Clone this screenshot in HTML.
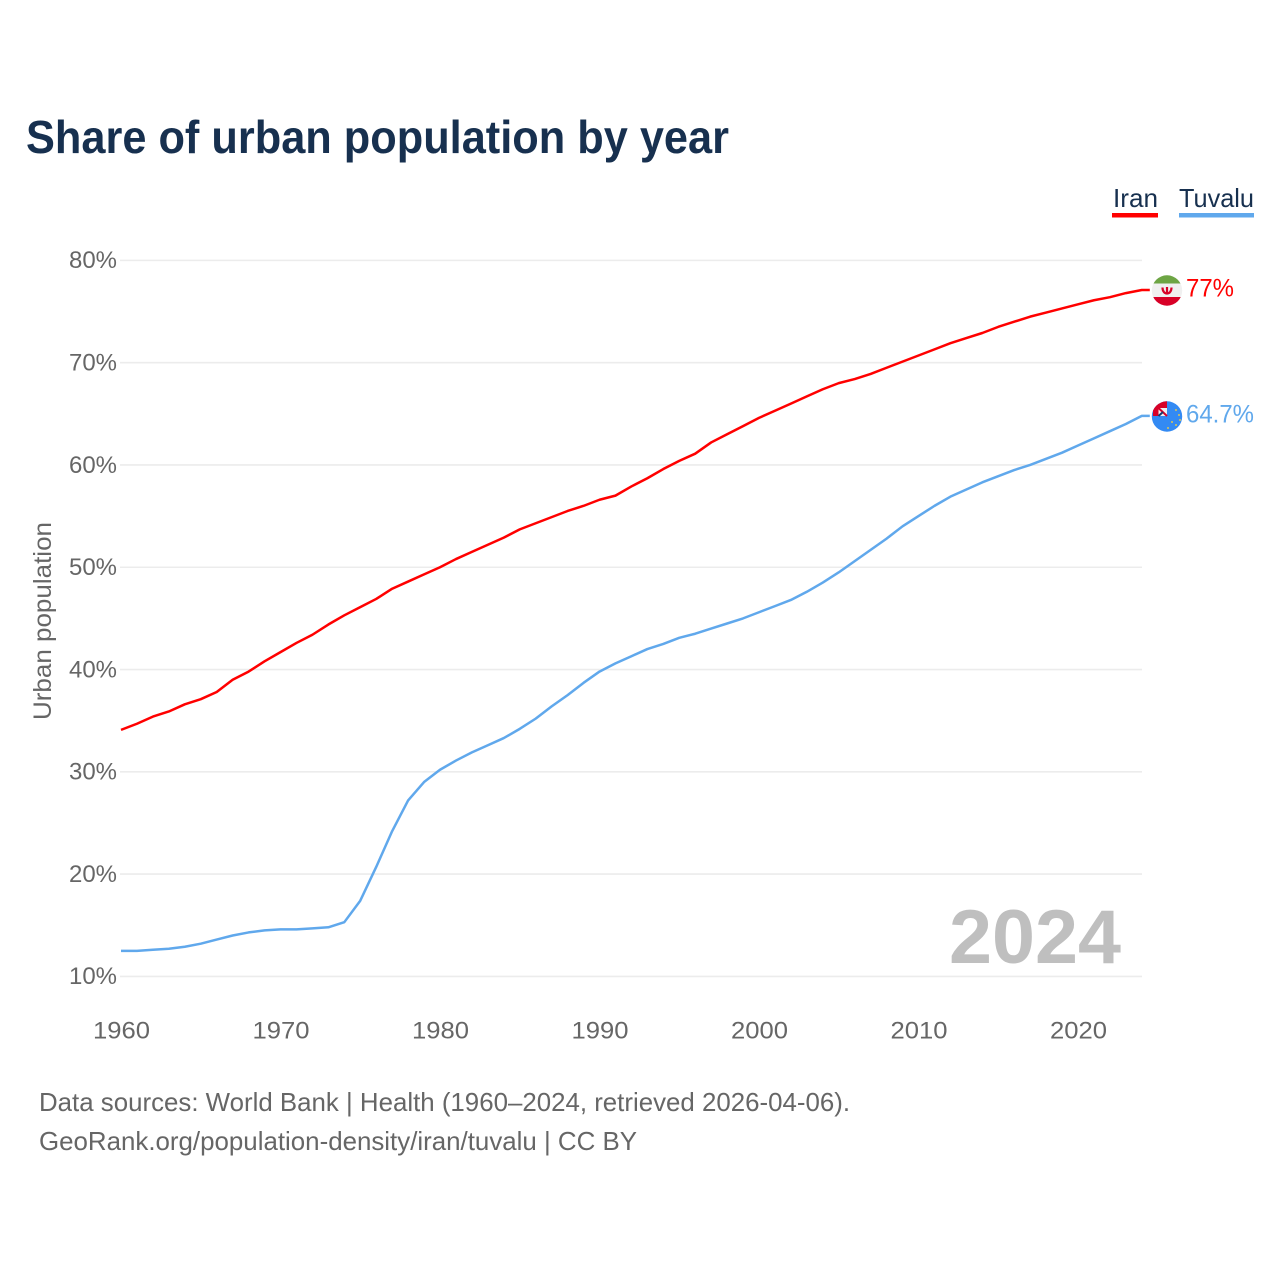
<!DOCTYPE html>
<html lang="en">
<head>
<meta charset="utf-8">
<title>Share of urban population by year</title>
<style>
html,body{margin:0;padding:0;background:#fff;}
svg{display:block;font-family:"Liberation Sans",sans-serif;}
</style>
</head>
<body>
<svg id="chart" width="1280" height="1280" viewBox="0 0 1280 1280" xmlns="http://www.w3.org/2000/svg">
  <defs>
    <clipPath id="iran-clip"><circle cx="1167" cy="290.5" r="15.2"/></clipPath>
    <clipPath id="tuvalu-clip"><circle cx="1167" cy="416.5" r="15.2"/></clipPath>
  </defs>
  <rect x="0" y="0" width="1280" height="1280" fill="#fff"/>
  <text x="26" y="153" font-size="46" font-weight="700" fill="#17304f" textLength="703" lengthAdjust="spacingAndGlyphs">Share of urban population by year</text>

  <g id="grid"></g>
  <g id="yticks"></g>
  <g id="xticks"></g>
  <text transform="translate(51,720) rotate(-90)" font-size="25" fill="#666" textLength="198" lengthAdjust="spacingAndGlyphs">Urban population</text>

  <text x="949" y="963" font-size="76" font-weight="700" fill="#bfbfbf" textLength="172" lengthAdjust="spacingAndGlyphs">2024</text>
  <g id="series"></g>

  <g>
    <text x="1113" y="207" font-size="26" fill="#17304f" textLength="45" lengthAdjust="spacingAndGlyphs">Iran</text>
    <rect x="1112" y="213" width="46" height="4.5" fill="#ff0000"/>
  </g>
  <g>
    <text x="1179" y="207" font-size="26" fill="#17304f" textLength="75" lengthAdjust="spacingAndGlyphs">Tuvalu</text>
    <rect x="1179" y="213" width="75" height="4.5" fill="#60a8ec"/>
  </g>

  <g clip-path="url(#iran-clip)">
    <rect x="1151" y="275" width="32" height="31" fill="#f0f0f0"/>
    <rect x="1151" y="275" width="32" height="8.5" fill="#6da544"/>
    <rect x="1151" y="297" width="32" height="9" fill="#d80027"/>
    <path d="M1162.5 287.5 C1162.5 295.5 1171.5 295.5 1171.5 287.5 M1167 287 L1167 294" fill="none" stroke="#d80027" stroke-width="2.2"/>
  </g>
  <g clip-path="url(#tuvalu-clip)">
    <rect x="1151" y="401" width="32" height="31" fill="#338af3"/>
    <rect x="1153" y="401" width="14" height="15" fill="#d80027"/>
    <rect x="1158.5" y="408" width="8.5" height="8" fill="#f0f0f0"/>
    <path d="M1158.5 408 L1167 416" stroke="#d80027" stroke-width="2"/>
    <path d="M1158.5 416 L1163 412" stroke="#1a3a6b" stroke-width="2"/>
    <circle cx="1176" cy="410" r="1" fill="#d9c65a"/>
    <circle cx="1179" cy="415" r="1" fill="#d9c65a"/>
    <circle cx="1172" cy="422" r="1" fill="#d9c65a"/>
    <circle cx="1180" cy="420" r="1" fill="#d9c65a"/>
    <circle cx="1176" cy="425" r="1" fill="#d9c65a"/>
    <circle cx="1168" cy="428" r="1" fill="#d9c65a"/>
  </g>

  <text x="1186" y="296.5" font-size="25" fill="#ff0000" textLength="48" lengthAdjust="spacingAndGlyphs">77%</text>
  <text x="1186" y="422.5" font-size="25" fill="#60a8ec" textLength="68" lengthAdjust="spacingAndGlyphs">64.7%</text>

  <text x="39" y="1111" font-size="26" fill="#666" textLength="811" lengthAdjust="spacingAndGlyphs">Data sources: World Bank | Health (1960–2024, retrieved 2026-04-06).</text>
  <text x="39" y="1150" font-size="26" fill="#666" textLength="598" lengthAdjust="spacingAndGlyphs">GeoRank.org/population-density/iran/tuvalu | CC BY</text>
</svg>
<script>
const startYear = 1960;
const yTickValues = [10, 20, 30, 40, 50, 60, 70, 80];
const xTickYears = [1960, 1970, 1980, 1990, 2000, 2010, 2020];
const iranValues = [34.1,34.7,35.4,35.9,36.6,37.1,37.8,39.0,39.8,40.8,41.7,42.6,43.4,44.4,45.3,46.1,46.9,47.9,48.6,49.3,50.0,50.8,51.5,52.2,52.9,53.7,54.3,54.9,55.5,56.0,56.6,57.0,57.9,58.7,59.6,60.4,61.1,62.2,63.0,63.8,64.6,65.3,66.0,66.7,67.4,68.0,68.4,68.9,69.5,70.1,70.7,71.3,71.9,72.4,72.9,73.5,74.0,74.5,74.9,75.3,75.7,76.1,76.4,76.8,77.1];
const tuvaluValues = [12.5,12.5,12.6,12.7,12.9,13.2,13.6,14.0,14.3,14.5,14.6,14.6,14.7,14.8,15.3,17.4,20.7,24.2,27.2,29.0,30.2,31.1,31.9,32.6,33.3,34.2,35.2,36.4,37.5,38.7,39.8,40.6,41.3,42.0,42.5,43.1,43.5,44.0,44.5,45.0,45.6,46.2,46.8,47.6,48.5,49.5,50.6,51.7,52.8,54.0,55.0,56.0,56.9,57.6,58.3,58.9,59.5,60.0,60.6,61.2,61.9,62.6,63.3,64.0,64.8];

const SVG_NS = 'http://www.w3.org/2000/svg';
function xScale(year) { return 121 + (year - startYear) * 15.95; }
function yScale(value) { return 976.4 - (value - 10) * 10.229; }

const gridGroup = document.getElementById('grid');
const yTickGroup = document.getElementById('yticks');
yTickValues.forEach(function (v) {
  const line = document.createElementNS(SVG_NS, 'line');
  
  
  line.setAttribute('x1', 120);
  line.setAttribute('x2', 1142);
  line.setAttribute('y1', yScale(v));
  line.setAttribute('y2', yScale(v));
  line.setAttribute('stroke', '#ececec');
  line.setAttribute('stroke-width', '1.6');
  gridGroup.appendChild(line);

  const label = document.createElementNS(SVG_NS, 'text');
  
  
  label.setAttribute('x', 69);
  label.setAttribute('y', yScale(v) + 7.8);
  label.setAttribute('font-size', '24');
  label.setAttribute('fill', '#666');
  label.setAttribute('textLength', '48');
  label.setAttribute('lengthAdjust', 'spacingAndGlyphs');
  label.textContent = v + '%';
  yTickGroup.appendChild(label);
});

const xTickGroup = document.getElementById('xticks');
xTickYears.forEach(function (y) {
  const label = document.createElementNS(SVG_NS, 'text');
  
  
  label.setAttribute('x', xScale(y) - 28);
  label.setAttribute('y', 1038.5);
  label.setAttribute('font-size', '24');
  label.setAttribute('fill', '#666');
  label.setAttribute('textLength', '57');
  label.setAttribute('lengthAdjust', 'spacingAndGlyphs');
  label.textContent = String(y);
  xTickGroup.appendChild(label);
});

function buildPath(values) {
  let d = '';
  values.forEach(function (v, i) {
    d += (i === 0 ? 'M' : 'L') + xScale(startYear + i).toFixed(2) + ' ' + yScale(v).toFixed(2) + ' ';
  });
  d += 'L' + (xScale(startYear + values.length - 1) + 8).toFixed(2) + ' ' + yScale(values[values.length - 1]).toFixed(2);
  return d;
}

const seriesGroup = document.getElementById('series');

const tuvaluLine = document.createElementNS(SVG_NS, 'path');


tuvaluLine.setAttribute('d', buildPath(tuvaluValues));
tuvaluLine.setAttribute('fill', 'none');
tuvaluLine.setAttribute('stroke', '#60a8ec');
tuvaluLine.setAttribute('stroke-width', '2.5');
tuvaluLine.setAttribute('stroke-linejoin', 'round');
seriesGroup.appendChild(tuvaluLine);

const iranLine = document.createElementNS(SVG_NS, 'path');


iranLine.setAttribute('d', buildPath(iranValues));
iranLine.setAttribute('fill', 'none');
iranLine.setAttribute('stroke', '#ff0000');
iranLine.setAttribute('stroke-width', '2.5');
iranLine.setAttribute('stroke-linejoin', 'round');
seriesGroup.appendChild(iranLine);
</script>
</body>
</html>
